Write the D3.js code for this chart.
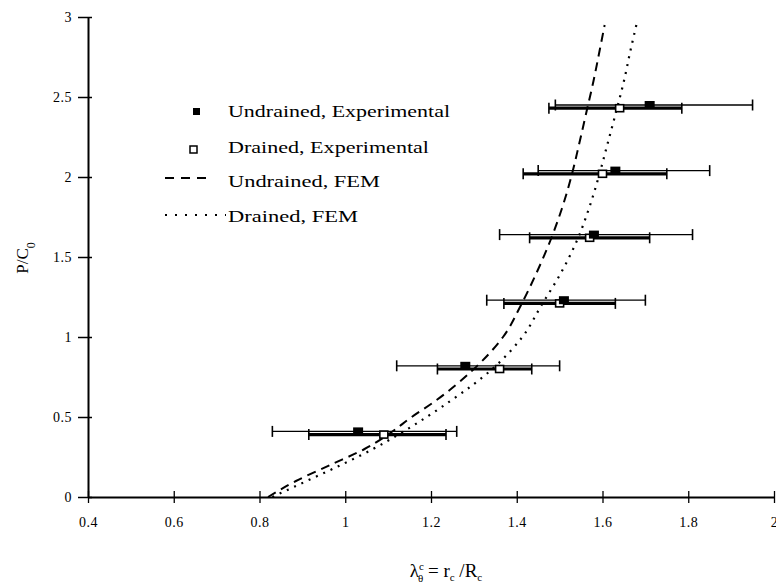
<!DOCTYPE html>
<html><head><meta charset="utf-8">
<script src="https://cdn.jsdelivr.net/npm/d3@7"></script>
<style>
html,body{margin:0;padding:0;background:#fff;}
svg text{font-family:"Liberation Serif","Times New Roman",serif;fill:#000;}
</style></head>
<body><svg id="c" width="776" height="586"></svg>
<script>
// ---- data ----
const xTicks = [0.4,0.6,0.8,1,1.2,1.4,1.6,1.8,2];
const xTickLabels = ["0.4","0.6","0.8","1","1.2","1.4","1.6","1.8","2"];
const yTicks = [0,0.5,1,1.5,2,2.5,3];
const yTickLabels = ["0","0.5","1","1.5","2","2.5","3"];

const undrainedExpX = [1.71,1.63,1.58,1.51,1.28,1.03];
const undrainedExpY = [2.45,2.04,1.64,1.23,0.82,0.41];
const undrainedErrLow  = [1.49,1.45,1.36,1.33,1.12,0.83];
const undrainedErrHigh = [1.95,1.85,1.81,1.70,1.50,1.26];

const drainedExpX = [1.64,1.60,1.57,1.50,1.36,1.09];
const drainedExpY = [2.43,2.02,1.62,1.21,0.80,0.39];
const drainedErrLow  = [1.475,1.415,1.43,1.37,1.215,0.915];
const drainedErrHigh = [1.785,1.75,1.71,1.63,1.435,1.235];

const undrainedFemX = [0.82,0.885,0.965,1.045,1.105,1.155,1.21,1.258,1.30,1.337,1.368,1.41,1.446,1.478,1.505,1.527,1.545,1.562,1.579,1.594,1.605];
const undrainedFemY = [0,0.1,0.2,0.3,0.4,0.5,0.6,0.7,0.8,0.9,1.0,1.2,1.4,1.6,1.8,2.0,2.2,2.4,2.6,2.8,2.95];
const drainedFemX = [0.83,0.91,0.99,1.065,1.13,1.19,1.245,1.297,1.343,1.381,1.413,1.458,1.503,1.54,1.568,1.591,1.611,1.631,1.65,1.666,1.679];
const drainedFemY = [0,0.1,0.2,0.3,0.4,0.5,0.6,0.7,0.8,0.9,1.0,1.2,1.4,1.6,1.8,2.0,2.2,2.4,2.6,2.8,2.95];

const legendLabels = ["Undrained, Experimental","Drained, Experimental","Undrained, FEM","Drained, FEM"];

// ---- chart ----
const svg = d3.select("#c");
const x = d3.scaleLinear().domain([0.4,2]).range([88,774]);
const y = d3.scaleLinear().domain([0,3]).range([497,17]);

// axes
const xAxis = svg.append("g").attr("transform","translate(0,"+y(0)+")")
  .call(d3.axisBottom(x).tickValues(xTicks).tickFormat((d,i)=>xTickLabels[i]).tickSizeOuter(0));
xAxis.select(".domain").attr("stroke","#000").attr("stroke-width",2);
xAxis.selectAll(".tick line").attr("y1",-6).attr("y2",6).attr("stroke-width",1.3);
xAxis.selectAll(".tick text").attr("y",30).attr("dy",0).style("font-size","14px").style("letter-spacing","0.5px");

const yAxis = svg.append("g").attr("transform","translate("+x(0.4)+",0)")
  .call(d3.axisLeft(y).tickValues(yTicks).tickFormat((d,i)=>yTickLabels[i]).tickSizeOuter(0));
yAxis.select(".domain").attr("stroke","#000").attr("stroke-width",2);
yAxis.selectAll(".tick line").attr("x1",-10).attr("x2",4).attr("stroke-width",1.5);
yAxis.selectAll(".tick text").attr("x",-16).style("font-size","14px").style("letter-spacing","0.5px");

// FEM curves
const line = d3.line().x(d=>x(d[0])).y(d=>y(d[1])).curve(d3.curveMonotoneY);
svg.append("path").datum(undrainedFemX.map((v,i)=>[v,undrainedFemY[i]]))
  .attr("d",line).attr("fill","none").attr("stroke","#000").attr("stroke-width",2)
  .attr("stroke-dasharray","9,6");
svg.append("path").datum(drainedFemX.map((v,i)=>[v,drainedFemY[i]]))
  .attr("d",line).attr("fill","none").attr("stroke","#000").attr("stroke-width",2.2)
  .attr("stroke-dasharray","2,6").attr("stroke-linecap","butt");

// error bars
function errBars(xl,xh,yy,w){
  const g = svg.append("g").attr("stroke","#000");
  yy.forEach((v,i)=>{
    g.append("line").attr("x1",x(xl[i])).attr("x2",x(xh[i])).attr("y1",y(v)).attr("y2",y(v)).attr("stroke-width",w);
    [xl[i],xh[i]].forEach(e=>{
      g.append("line").attr("x1",x(e)).attr("x2",x(e)).attr("y1",y(v)-5.5).attr("y2",y(v)+5.5).attr("stroke-width",1.6);
    });
  });
}
errBars(undrainedErrLow,undrainedErrHigh,undrainedExpY,1.3);
errBars(drainedErrLow,drainedErrHigh,drainedExpY,3.2);

// markers
svg.append("g").selectAll("rect").data(drainedExpX).join("rect")
  .attr("x",(d)=>x(d)-4).attr("y",(d,i)=>y(drainedExpY[i])-3.5).attr("width",8).attr("height",7)
  .attr("fill","#fff").attr("stroke","#000").attr("stroke-width",1.6);
svg.append("g").selectAll("rect").data(undrainedExpX).join("rect")
  .attr("x",(d)=>x(d)-5).attr("y",(d,i)=>y(undrainedExpY[i])-4).attr("width",10).attr("height",8)
  .attr("fill","#000");

// legend
const lg = svg.append("g");
const rowY = [117,153,187,222];
const textW = [222,201,152,130];
legendLabels.forEach((t,i)=>{
  lg.append("text").attr("x",228).attr("y",rowY[i]).text(t)
    .style("font-size","17px").attr("textLength",textW[i]).attr("lengthAdjust","spacingAndGlyphs");
});
lg.append("rect").attr("x",193).attr("y",108).attr("width",7).attr("height",7).attr("fill","#000");
lg.append("rect").attr("x",190).attr("y",146).attr("width",7).attr("height",7).attr("fill","#fff").attr("stroke","#000").attr("stroke-width",1.5);
lg.append("line").attr("x1",165).attr("x2",208).attr("y1",178).attr("y2",178).attr("stroke","#000").attr("stroke-width",2).attr("stroke-dasharray","9,7");
lg.append("line").attr("x1",165).attr("x2",226).attr("y1",215).attr("y2",215).attr("stroke","#000").attr("stroke-width",1.8).attr("stroke-dasharray","2,8");

// axis titles
const yl = svg.append("text").attr("transform","translate(28,258) rotate(-90)").attr("text-anchor","middle").style("font-size","17px");
yl.append("tspan").text("P/C");
yl.append("tspan").attr("baseline-shift","sub").style("font-size","12px").text("0");

const xl = svg.append("text").attr("x",446).attr("y",577).attr("text-anchor","middle").style("font-size","19px");
xl.append("tspan").text("λ");
xl.append("tspan").attr("dy",-7).style("font-size","11px").text("c");
xl.append("tspan").attr("dx",-6).attr("dy",12).style("font-size","11px").text("θ");
xl.append("tspan").attr("dy",-5).text(" = r");
xl.append("tspan").attr("dy",4).style("font-size","11px").text("c");
xl.append("tspan").attr("dy",-4).text(" /R");
xl.append("tspan").attr("dy",4).style("font-size","11px").text("c");
</script></body></html>
